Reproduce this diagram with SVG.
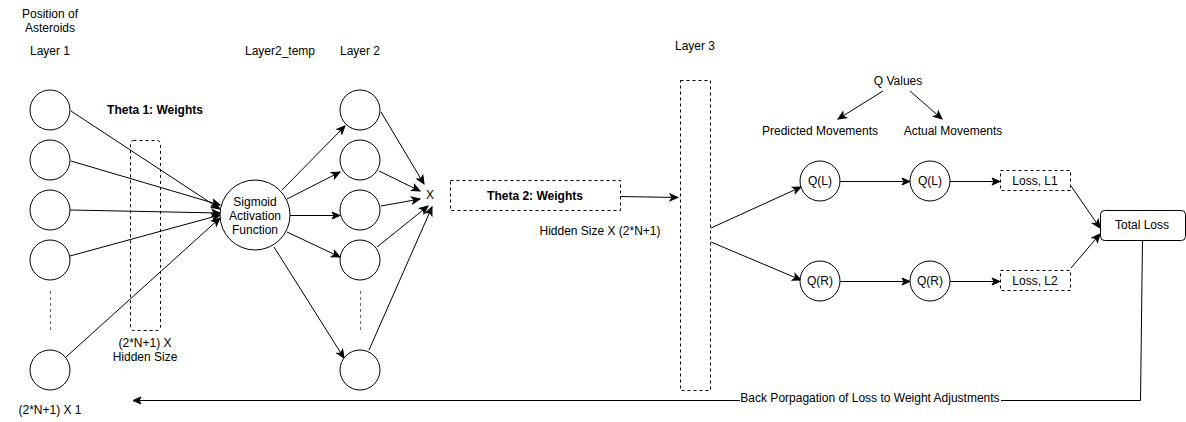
<svg xmlns="http://www.w3.org/2000/svg" width="1186" height="422" viewBox="0 0 1186 422">
<defs>
<style>
text{font-family:"Liberation Sans",Arial,sans-serif;font-size:12px;fill:#000;text-anchor:middle;dominant-baseline:central}
.b{font-weight:bold}
.n{fill:#fff;stroke:#000;stroke-width:1}
.d{fill:#fff;stroke:#000;stroke-width:1;stroke-dasharray:3 3}
.a{fill:none;stroke:#000;stroke-width:1;marker-end:url(#arr)}
.g{fill:none;stroke:#666;stroke-width:1;stroke-dasharray:3 3}
</style>
<marker id="arr" markerUnits="userSpaceOnUse" markerWidth="10" markerHeight="10" viewBox="0 0 10 10" refX="9" refY="5" orient="auto">
<path d="M1,1.5 L9,5 L1,8.5 L3,5 z" fill="#000" stroke="#000" stroke-width="1"/>
</marker>
</defs>
<rect width="1186" height="422" fill="#fff"/>

<g id="labels">
<text x="50" y="14">Position of</text>
<text x="50" y="28">Asteroids</text>
<text x="50" y="51">Layer 1</text>
<text x="280" y="51">Layer2_temp</text>
<text x="360" y="51">Layer 2</text>
<text x="695" y="46">Layer 3</text>
<text x="155" y="110" class="b">Theta 1: Weights</text>
<text x="145" y="343">(2*N+1) X</text>
<text x="145" y="357">Hidden Size</text>
<text x="50" y="410">(2*N+1) X 1</text>
<text x="600" y="231">Hidden Size X (2*N+1)</text>
<text x="430" y="195">X</text>
<text x="898" y="81">Q Values</text>
<text x="820" y="131">Predicted Movements</text>
<text x="953" y="131">Actual Movements</text>
</g>

<g id="connectors">
<line class="a" x1="71" y1="111" x2="220" y2="209"/>
<line class="a" x1="71" y1="161" x2="220" y2="205"/>
<line class="a" x1="70" y1="210" x2="220" y2="213"/>
<line class="a" x1="70" y1="256" x2="220" y2="215"/>
<line class="a" x1="66" y1="357" x2="220" y2="218"/>
<line class="a" x1="282" y1="190" x2="345" y2="126"/>
<line class="a" x1="287" y1="199" x2="340" y2="172"/>
<line class="a" x1="290" y1="215.5" x2="340" y2="215.5"/>
<line class="a" x1="287" y1="232" x2="340" y2="257"/>
<line class="a" x1="274" y1="247" x2="344" y2="358"/>
<line class="a" x1="381" y1="112" x2="424" y2="184"/>
<line class="a" x1="379" y1="171" x2="420" y2="191"/>
<line class="a" x1="381" y1="206" x2="420" y2="199"/>
<line class="a" x1="377" y1="247" x2="428" y2="206"/>
<line class="a" x1="369" y1="350" x2="432" y2="207"/>
<line class="a" x1="620" y1="196.5" x2="678" y2="197.5"/>
<line class="a" x1="711" y1="228" x2="801" y2="187"/>
<line class="a" x1="711" y1="242" x2="801" y2="280"/>
<line class="a" x1="840" y1="181.5" x2="910" y2="181.5"/>
<line class="a" x1="840" y1="281.5" x2="910" y2="281.5"/>
<line class="a" x1="950" y1="181.5" x2="1000" y2="181.5"/>
<line class="a" x1="950" y1="281.5" x2="1000" y2="281.5"/>
<line class="a" x1="1071" y1="186" x2="1100" y2="228"/>
<line class="a" x1="1071" y1="268" x2="1100" y2="234"/>
<line class="a" x1="883" y1="91" x2="838" y2="119"/>
<line class="a" x1="910" y1="91" x2="942" y2="119"/>
<polyline class="a" points="1142.5,240 1140.5,400.5 133,400.5"/>
<rect x="740" y="392" width="261" height="14" fill="#fff"/>
<text x="870" y="398">Back Porpagation of Loss to Weight Adjustments</text>
<line class="g" x1="50.5" y1="291" x2="50.5" y2="330"/>
<line class="g" x1="360.5" y1="291" x2="360.5" y2="330"/>
</g>

<g id="layer1">
<circle class="n" cx="50" cy="110" r="20"/>
<circle class="n" cx="50" cy="160" r="20"/>
<circle class="n" cx="50" cy="210" r="20"/>
<circle class="n" cx="50" cy="260" r="20"/>
<circle class="n" cx="50" cy="370" r="20"/>
</g>
<g id="theta1">
<rect x="130.5" y="140.5" width="30" height="190" rx="3" fill="none" stroke="#000" stroke-dasharray="3 3"/>
</g>
<g id="sigmoid">
<circle class="n" cx="255" cy="215" r="35"/>
<text x="255" y="202">Sigmoid</text>
<text x="255" y="216">Activation</text>
<text x="255" y="230">Function</text>
</g>
<g id="layer2">
<circle class="n" cx="360" cy="110" r="20"/>
<circle class="n" cx="360" cy="160" r="20"/>
<circle class="n" cx="360" cy="210" r="20"/>
<circle class="n" cx="360" cy="260" r="20"/>
<circle class="n" cx="360" cy="370" r="20"/>
</g>
<g id="theta2">
<rect class="d" x="450.5" y="180.5" width="170" height="30"/>
<text x="535" y="196" class="b">Theta 2: Weights</text>
</g>
<g id="layer3">
<rect class="d" x="680.5" y="80.5" width="30" height="310" fill="none"/>
</g>
<g id="qlp">
<circle class="n" cx="820" cy="181" r="20"/>
<text x="820" y="181">Q(L)</text>
</g>
<g id="qla">
<circle class="n" cx="930" cy="181" r="20"/>
<text x="930" y="181">Q(L)</text>
</g>
<g id="qrp">
<circle class="n" cx="820" cy="281" r="20"/>
<text x="820" y="281">Q(R)</text>
</g>
<g id="qra">
<circle class="n" cx="930" cy="281" r="20"/>
<text x="930" y="281">Q(R)</text>
</g>
<g id="loss1">
<rect class="d" x="1000.5" y="170.5" width="70" height="20"/>
<text x="1035" y="181">Loss, L1</text>
</g>
<g id="loss2">
<rect class="d" x="1000.5" y="270.5" width="70" height="20"/>
<text x="1035" y="281">Loss, L2</text>
</g>
<g id="total">
<rect class="n" x="1100.5" y="210.5" width="85" height="30" rx="4"/>
<text x="1142" y="225">Total Loss</text>
</g>
</svg>
